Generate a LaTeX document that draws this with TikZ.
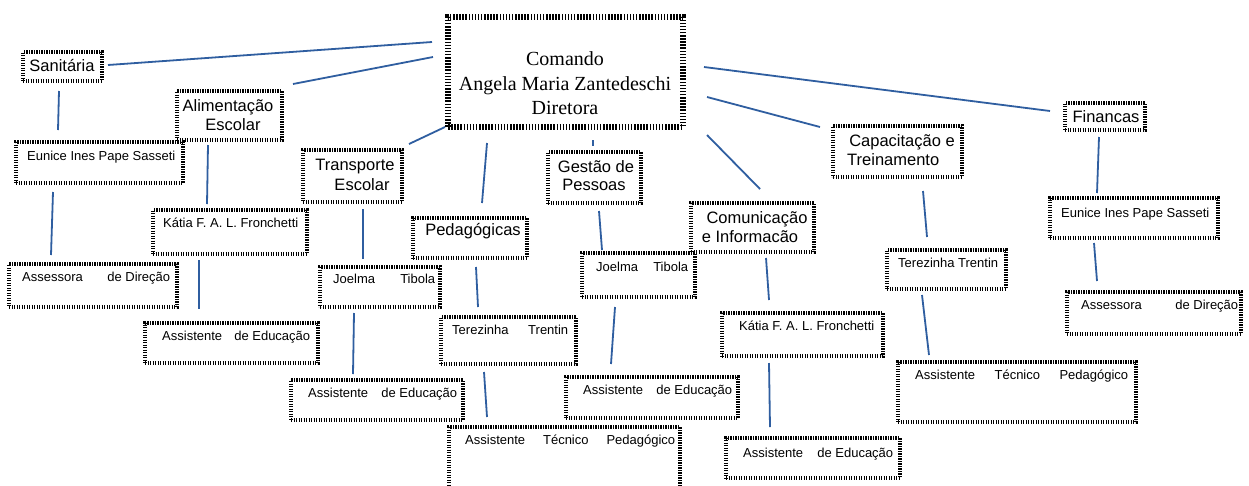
\documentclass[tikz,border=0pt]{standalone}
\usepackage{fontspec}
\setmainfont{Liberation Sans}
\newfontfamily\serifc{Liberation Serif}
\definecolor{lnblue}{RGB}{47,94,160}
\tikzset{
  bx/.style={draw=black, line width=3.2pt, dash pattern=on 1.2pt off 1.3pt, inner sep=0pt, rectangle},
  bigbx/.style={bx, line width=6pt, dash pattern=on 1.5pt off 1.6pt},
  hdtxt/.style={font=\fontsize{16.5}{19}\selectfont, inner sep=0pt, anchor=mid},
  nmtxt/.style={font=\fontsize{13}{15}\selectfont, inner sep=0pt, anchor=mid},
  cmdtxt/.style={font=\serifc\fontsize{20}{24}\selectfont, inner sep=0pt, anchor=mid},
  conn/.style={draw=lnblue, line width=1.8pt},
}
\newcommand\mybox[6][bx]{\node[#1, minimum width={(#5-#3)*1pt}, minimum height={(#6-#4)*1pt}] (#2) at ({(#3+#5)/2},{(#4+#6)/2}) {};}
\newcommand\jt[3]{\makebox[#1pt]{#2\hfill #3}}
\begin{document}
\begin{tikzpicture}[x=1pt,y=-1pt]
\useasboundingbox (0,0) rectangle (1249,485);
\fill[white] (0,0) rectangle (1249,485);
\clip (0,0) rectangle (1249,485);
% boxes
\mybox[bigbx]{cmd}{448}{17}{683}{127}
\mybox{san}{23}{52}{102}{81}
\mybox{ali}{177}{91}{282}{140}
\mybox{eunL}{16}{142}{183}{183}
\mybox{tra}{303}{150}{402}{202}
\mybox{katL}{153}{210}{307}{254}
\mybox{assL}{9}{264}{177}{307}
\mybox{aeA}{145}{323}{318}{363}
\mybox{joeL}{320}{267}{440}{307}
\mybox{aeB}{291}{380}{463}{420}
\mybox{ped}{413}{218}{527}{258}
\mybox{ges}{548}{152}{641}{203}
\mybox{joeM}{582}{253}{695}{297}
\mybox{com}{691}{203}{814}{252}
\mybox{terM}{441}{317}{576}{364}
\mybox{aeC}{566}{377}{738}{418}
\mybox{atpM}{449}{427}{680}{500}
\mybox{katR}{722}{313}{883}{356}
\mybox{aeD}{726}{438}{900}{478}
\mybox{cap}{833}{126}{962}{177}
\mybox{fin}{1065}{103}{1145}{130}
\mybox{eunR}{1050}{198}{1218}{238}
\mybox{terR}{887}{250}{1006}{289}
\mybox{assR}{1067}{292}{1241}{334}
\mybox{atpR}{898}{362}{1136}{422}
% texts
\node[cmdtxt] (cmdT1) at (565,63) {Comando};
\node[cmdtxt] (cmdT2) at (565,88) {Angela Maria Zantedeschi};
\node[cmdtxt] (cmdT3) at (565,112) {Diretora};
\node[hdtxt] (sanT) at (62,69) {Sanitária};
\node[hdtxt] (aliT1) at (228,109) {Alimentação};
\node[hdtxt] (aliT2) at (233,128) {Escolar};
\node[nmtxt, anchor=mid west] (eunLT) at (27,158) {Eunice Ines Pape Sasseti};
\node[hdtxt] (traT1) at (355,168) {Transporte};
\node[hdtxt] (traT2) at (362,188) {Escolar};
\node[nmtxt, anchor=mid west] (katLT) at (163,225) {Kátia F. A. L. Fronchetti};
\node[nmtxt, anchor=mid west] (assLT) at (22,279) {\jt{148}{Assessora}{de Direção}};
\node[nmtxt, anchor=mid west] (aeAT) at (162,338) {\jt{148}{Assistente}{de Educação}};
\node[nmtxt, anchor=mid west] (joeLT) at (333,281) {\jt{102}{Joelma}{Tibola}};
\node[nmtxt, anchor=mid west] (aeBT) at (308,395) {\jt{149}{Assistente}{de Educação}};
\node[hdtxt] (pedT) at (473,233) {Pedagógicas};
\node[hdtxt] (gesT1) at (596,170) {Gestão de};
\node[hdtxt] (gesT2) at (594,188) {Pessoas};
\node[nmtxt, anchor=mid west] (joeMT) at (596,269) {\jt{92}{Joelma}{Tibola}};
\node[hdtxt] (comT1) at (757,221) {Comunicação};
\node[hdtxt] (comT2) at (750,240) {e Informacão};
\node[nmtxt, anchor=mid west] (terMT) at (452,332) {\jt{116}{Terezinha}{Trentin}};
\node[nmtxt, anchor=mid west] (aeCT) at (583,392) {\jt{149}{Assistente}{de Educação}};
\node[nmtxt, anchor=mid west] (atpMT) at (465,442) {\makebox[210pt]{Assistente\hfill Técnico\hfill Pedagógico}};
\node[nmtxt, anchor=mid west] (katRT) at (739,328) {Kátia F. A. L. Fronchetti};
\node[nmtxt, anchor=mid west] (aeDT) at (743,455) {\jt{150}{Assistente}{de Educação}};
\node[hdtxt] (capT1) at (902,144) {Capacitação e};
\node[hdtxt, anchor=mid west] (capT2) at (847,163) {Treinamento};
\node[hdtxt] (finT) at (1106,120) {Financas};
\node[nmtxt, anchor=mid west] (eunRT) at (1061,215) {Eunice Ines Pape Sasseti};
\node[nmtxt, anchor=mid west] (terRT) at (898,265) {Terezinha Trentin};
\node[nmtxt, anchor=mid west] (assRT) at (1081,307) {\jt{157}{Assessora}{de Direção}};
\node[nmtxt, anchor=mid west] (atpRT) at (915,377) {\makebox[213pt]{Assistente\hfill Técnico\hfill Pedagógico}};
% connector ends
\coordinate (cmd-san) at (432,42);   \coordinate (san-cmd) at (108,65);
\coordinate (cmd-ali) at (433,57);   \coordinate (ali-cmd) at (293,84);
\coordinate (cmd-tra) at (445,127);  \coordinate (tra-cmd) at (409,144);
\coordinate (cmd-ped) at (487,143);  \coordinate (ped-cmd) at (482,203);
\coordinate (cmd-ges) at (593,140);  \coordinate (ges-cmd) at (593,146);
\coordinate (cmd-com) at (707,135);  \coordinate (com-cmd) at (760,189);
\coordinate (cmd-cap) at (707,97);   \coordinate (cap-cmd) at (820,127);
\coordinate (cmd-fin) at (704,67);   \coordinate (fin-cmd) at (1050,111);
\coordinate (san-eunL) at (59,91);   \coordinate (eunL-san) at (58,130);
\coordinate (eunL-assL) at (53,192); \coordinate (assL-eunL) at (51,255);
\coordinate (ali-katL) at (208,145); \coordinate (katL-ali) at (207,204);
\coordinate (katL-aeA) at (199,260); \coordinate (aeA-katL) at (199,309);
\coordinate (tra-joeL) at (363,209); \coordinate (joeL-tra) at (363,259);
\coordinate (joeL-aeB) at (354,313); \coordinate (aeB-joeL) at (353,374);
\coordinate (ped-terM) at (476,267); \coordinate (terM-ped) at (478,307);
\coordinate (terM-atpM) at (484,372);\coordinate (atpM-terM) at (487,417);
\coordinate (ges-joeM) at (599,211); \coordinate (joeM-ges) at (602,250);
\coordinate (joeM-aeC) at (615,307); \coordinate (aeC-joeM) at (611,364);
\coordinate (com-katR) at (766,258); \coordinate (katR-com) at (769,300);
\coordinate (katR-aeD) at (769,363); \coordinate (aeD-katR) at (770,427);
\coordinate (cap-terR) at (923,191); \coordinate (terR-cap) at (927,237);
\coordinate (terR-atpR) at (922,295);\coordinate (atpR-terR) at (929,355);
\coordinate (fin-eunR) at (1099,137);\coordinate (eunR-fin) at (1097,193);
\coordinate (eunR-assR) at (1094,243);\coordinate (assR-eunR) at (1097,281);
% connectors
\foreach \a/\b in {cmd/san,cmd/ali,cmd/tra,cmd/ped,cmd/ges,cmd/com,cmd/cap,cmd/fin,
  san/eunL,eunL/assL,ali/katL,katL/aeA,tra/joeL,joeL/aeB,ped/terM,terM/atpM,
  ges/joeM,joeM/aeC,com/katR,katR/aeD,cap/terR,terR/atpR,fin/eunR,eunR/assR}
  \draw[conn] (\a-\b) -- (\b-\a);
\end{tikzpicture}
\end{document}
